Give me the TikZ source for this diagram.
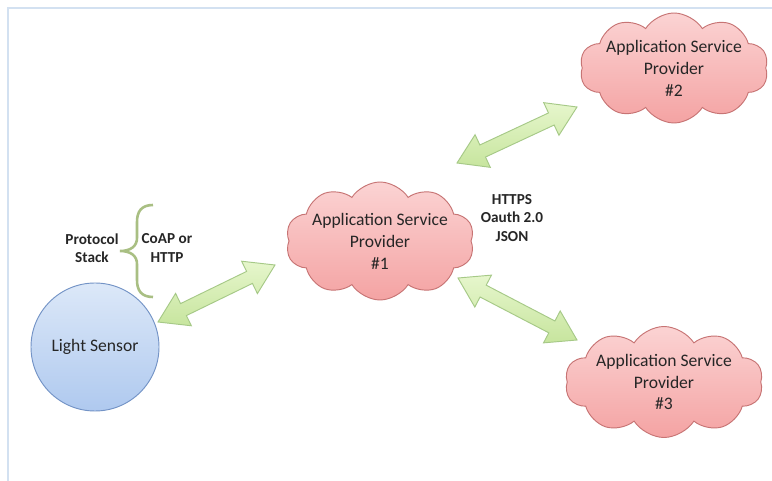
\documentclass[tikz,border=0pt]{standalone}
\usepackage{fontspec}
\setmainfont{Carlito}
\usepackage{xcolor}
\usetikzlibrary{calc,shapes.symbols}

\definecolor{framebl}{HTML}{D3E1F1}
\definecolor{cloudtop}{HTML}{FBD3D3}
\definecolor{cloudbot}{HTML}{F4A3A3}
\definecolor{cloudline}{HTML}{C77474}
\definecolor{sensortop}{HTML}{DCE8F8}
\definecolor{sensorbot}{HTML}{AFC9EF}
\definecolor{sensorline}{HTML}{7393C6}
\definecolor{linktop}{HTML}{E6F6CC}
\definecolor{linkbot}{HTML}{C7E59E}
\definecolor{linkline}{HTML}{A6C987}
\definecolor{bracegreen}{HTML}{A9BF83}

% block arrow with a head at both ends, from #1 to #2
\newcommand{\biarrow}[2]{%
  \path ($(#1)!0.85cm!(#2)$) coordinate (h1) ($(#2)!0.85cm!(#1)$) coordinate (h2);
  \draw[linkarrow] (#1) -- ($(h1)!0.54cm!90:(#2)$) -- ($(h1)!0.2cm!90:(#2)$)
    -- ($(h2)!0.2cm!-90:(#1)$) -- ($(h2)!0.54cm!-90:(#1)$) -- (#2)
    -- ($(h2)!0.54cm!90:(#1)$) -- ($(h2)!0.2cm!90:(#1)$)
    -- ($(h1)!0.2cm!-90:(#2)$) -- ($(h1)!0.54cm!-90:(#2)$) -- cycle;}

\begin{document}
\begin{tikzpicture}[x=0.03cm,y=-0.03cm,
  provider/.style={cloud, cloud puffs=10, cloud puff arc=115, cloud ignores aspect,
    draw=cloudline, line width=0.8pt, top color=cloudtop, bottom color=cloudbot,
    align=center, text=black!85, font=\fontsize{15}{18.7}\selectfont, inner sep=-2pt},
  sensor/.style={circle, draw=sensorline, line width=0.8pt, top color=sensortop,
    bottom color=sensorbot, minimum size=128*0.03cm, text=black!85,
    font=\fontsize{15}{18.7}\selectfont},
  linkarrow/.style={draw=linkline, line width=0.8pt, top color=linktop, bottom color=linkbot},
  tag/.style={align=center, text=black!85, font=\fontsize{13}{15.5}\selectfont\bfseries}]
				\useasboundingbox (0,0) rectangle (772,481);
				\fill[white] (0,0) rectangle (772,481);
				
				% frame of the slide
				\draw[framebl, line width=1.6pt] (8,481) -- (8,8) -- (772,8);
				
				\node[sensor] (light) at (95,347) {Light Sensor};
				\node[provider, minimum width=177*0.03cm, minimum height=118*0.03cm] (asp1) at (380,241)
				{Application Service\\Provider\\\#1};
				\node[provider, minimum width=188*0.03cm, minimum height=110*0.03cm] (asp2) at (674,68)
				{Application Service\\Provider\\\#2};
				\node[provider, minimum width=198*0.03cm, minimum height=111*0.03cm] (asp3) at (664,382)
				{Application Service\\Provider\\\#3};
				
				\node[tag] (stack) at (92,248) {Protocol\\Stack};
				\node[tag] (proto) at (167,248) {CoAP or\\HTTP};
				\node[tag] (web) at (512,218) {HTTPS\\Oauth 2.0\\JSON};
				
				\draw[bracegreen, line width=2.2pt]
				(153,205) .. controls (141,205) and (137,212) .. (137,222) -- (137,238)
				.. controls (137,246) and (131,251) .. (120,251)
				.. controls (131,251) and (137,256) .. (137,264) -- (137,280)
				.. controls (137,290) and (141,297) .. (153,297);
				
				\coordinate (l1) at (158,322);
				\coordinate (a1) at (275,265);
				\coordinate (c1) at (457,163);
				\coordinate (a2) at (577,107);
				\coordinate (c3) at (458,278);
				\coordinate (a3) at (577,340);
				
				\biarrow{l1}{a1}
				\biarrow{c1}{a2}
				\biarrow{c3}{a3}
			\end{tikzpicture}
\end{document}
